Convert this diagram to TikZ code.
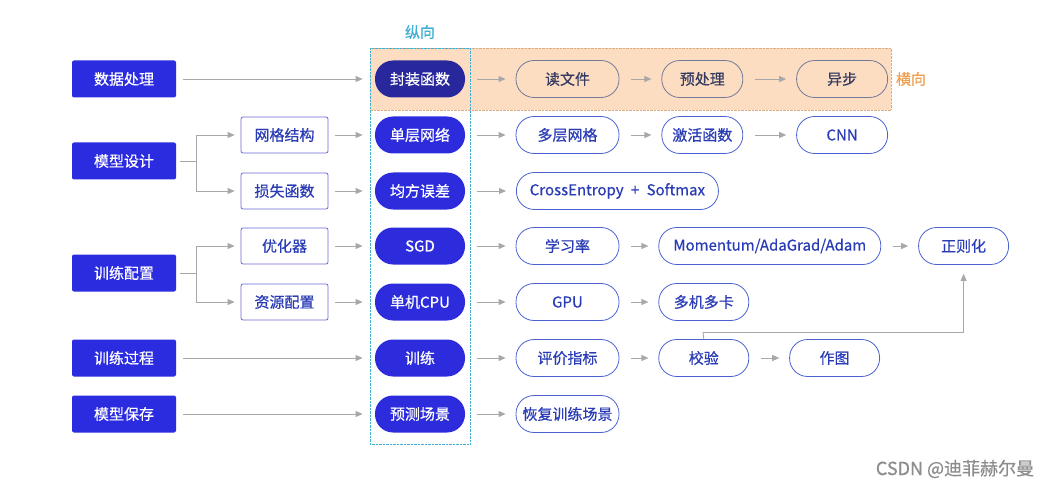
\documentclass[tikz,border=0pt]{standalone}
\usepackage{fontspec}
\setmainfont{Noto Sans CJK SC}[FakeBold=0.6]
\usetikzlibrary{arrows.meta, positioning}

\definecolor{lblue}{HTML}{2B2BE0}
\definecolor{pblue}{HTML}{2C2CDC}
\definecolor{pdark}{HTML}{28289C}
\definecolor{tblue}{HTML}{2A3CB5}
\definecolor{bline}{HTML}{4A62D0}
\definecolor{sline}{HTML}{6A6AD8}
\definecolor{agray}{HTML}{A8A8A8}
\definecolor{peach}{HTML}{FDDDC2}
\definecolor{pline}{HTML}{D9AE85}
\definecolor{vcyan}{HTML}{3FB0D2}
\definecolor{hgold}{HTML}{F0A050}
\definecolor{oline}{HTML}{737A98}
\definecolor{otext}{HTML}{343A60}

\tikzset{
    lead/.style={fill=lblue, text=white, minimum width=104pt, minimum height=37pt, rounded corners=2pt},
    sub/.style={draw=sline, fill=white, text=tblue, minimum width=87pt, minimum height=36pt, rounded corners=2pt},
    core/.style={fill=pblue, text=white, minimum width=90pt, minimum height=37pt, rounded corners=18pt},
    opt/.style={draw=bline, text=tblue, minimum width=103pt, minimum height=37pt, rounded corners=18pt, inner xsep=4pt},
    orow/.style={opt, draw=oline, text=otext},
    arr/.style={draw=agray, line width=0.9pt, -{Triangle[length=7pt,width=6pt]}},
}

\begin{document}
\begin{tikzpicture}[x=1pt, y=-1pt, font=\fontsize{15}{17}\selectfont, thick]
    \useasboundingbox (0,0) rectangle (1050,484);
    % background areas
    \fill[peach] (370,48) rectangle (891,110);
    \draw[pline, densely dotted, thin] (370,48) rectangle (891,110);
    \draw[vcyan, densely dotted, thin] (370,48) rectangle (470,444);
    \node[text=vcyan] (vert) at (420,32) {纵向};
    \node[text=hgold] (horz) at (911,79) {横向};

    % left column
    \node[lead] (data) at (124,79) {数据处理};
    \node[lead] (model) at (124,161) {模型设计};
    \node[lead] (conf) at (124,273) {训练配置};
    \node[lead] (proc) at (124,358) {训练过程};
    \node[lead] (save) at (124,414) {模型保存};

    % second column
    \node[sub] (net) at (284.5,135) {网格结构};
    \node[sub] (loss) at (284.5,191) {损失函数};
    \node[sub] (optim) at (284.5,246) {优化器};
    \node[sub] (res) at (284.5,302) {资源配置};

    % core column
    \node[core, fill=pdark] (wrap) at (420,79) {封装函数};
    \node[core] (single) at (420,135) {单层网络};
    \node[core] (mse) at (420,191) {均方误差};
    \node[core] (sgd) at (420,246) {SGD};
    \node[core] (cpu) at (420,302) {单机CPU};
    \node[core] (train) at (420,358) {训练};
    \node[core] (pred) at (420,414) {预测场景};

    % horizontal chains
    \node[orow] (read) at (567.5,79) {读文件};
    \node[orow, minimum width=81pt, right=42pt of read] (prep) {预处理};
    \node[orow, minimum width=91pt, right=53pt of prep] (async) {异步};

    \node[opt] (multi) at (567.5,135) {多层网格};
    \node[opt, minimum width=81pt, right=42pt of multi] (act) {激活函数};
    \node[opt, minimum width=91pt, right=53pt of act] (cnn) {CNN};

    \node[opt, minimum width=202pt, anchor=west] (ce) at (516,191) {CrossEntropy\hspace{4pt} + \hspace{4pt}Softmax};

    \node[opt] (lr) at (567.5,246) {学习率};
    \node[opt, minimum width=222pt, right=39pt of lr] (mom) {Momentum/AdaGrad/Adam};
    \node[opt, minimum width=90pt, right=37pt of mom] (reg) {正则化};

    \node[opt] (gpu) at (567.5,302) {GPU};
    \node[opt, minimum width=90pt, right=39pt of gpu] (mgpu) {多机多卡};

    \node[opt] (metric) at (567.5,358) {评价指标};
    \node[opt, minimum width=90pt, right=39pt of metric] (val) {校验};
    \node[opt, minimum width=90pt, right=40pt of val] (plot) {作图};

    \node[opt] (resume) at (567.5,414) {恢复训练场景};

    % left to core
    \draw[arr, shorten <=7pt, shorten >=12pt] (data) -- (wrap);
    \draw[arr, shorten <=7pt, shorten >=12pt] (proc) -- (train);
    \draw[arr, shorten <=7pt, shorten >=12pt] (save) -- (pred);
    \coordinate (mj) at (196,161);
    \coordinate (cj) at (196,273);
    \draw[agray, line width=0.9pt, shorten <=4pt] (model.east) -- (mj);
    \draw[arr, shorten >=6pt] (mj) |- (net);
    \draw[arr, shorten >=6pt] (mj) |- (loss);
    \draw[agray, line width=0.9pt, shorten <=4pt] (conf.east) -- (cj);
    \draw[arr, shorten >=6pt] (cj) |- (optim);
    \draw[arr, shorten >=6pt] (cj) |- (res);
    \foreach \a/\b in {net/single, loss/mse, optim/sgd, res/cpu}
        \draw[arr, shorten <=7pt, shorten >=12pt] (\a) -- (\b);

    % chains
    \foreach \a/\b in {wrap/read, read/prep, prep/async, single/multi, multi/act, act/cnn,
                       mse/ce, sgd/lr, lr/mom, mom/reg, cpu/gpu, gpu/mgpu,
                       train/metric, metric/val, val/plot, pred/resume}
        \draw[arr, shorten <=12pt, shorten >=10pt] (\a) -- (\b);
    \coordinate (vk) at (703,332);
    \draw[agray, line width=0.9pt] (val.north) -- (vk);
    \draw[arr, shorten >=9pt] (vk) -| (reg.south);

    % watermark
    \node[text=black!45, font=\fontsize{18}{20}\selectfont] (mark) at (955,469) {CSDN @迪菲赫尔曼};
\end{tikzpicture}
\end{document}
